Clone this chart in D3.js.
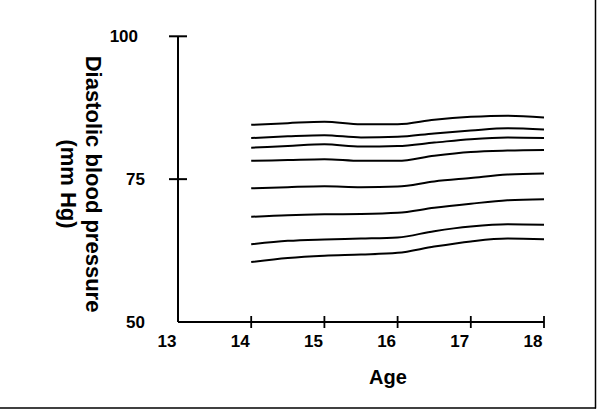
<!DOCTYPE html>
<html>
<head>
<meta charset="utf-8">
<script src="https://cdn.jsdelivr.net/npm/d3@7"></script>
<style>
  html, body { margin: 0; padding: 0; background: #fff; }
  svg { display: block; }
  text { font-family: "Liberation Sans", Arial, sans-serif; font-weight: bold; fill: #000; }
</style>
</head>
<body>
<svg id="chart" width="600" height="410"></svg>
<script>
const ages = [14, 14.5, 15, 15.5, 16, 16.5, 17, 17.5, 18];
const line1 = [84.5, 84.8, 85.05, 84.6, 84.6, 85.4, 85.9, 86.1, 85.8];
const line2 = [82.2, 82.5, 82.7, 82.3, 82.4, 83.0, 83.5, 83.9, 83.7];
const line3 = [80.5, 80.8, 81.1, 80.7, 80.8, 81.4, 82.0, 82.3, 82.2];
const line4 = [78.2, 78.35, 78.5, 78.2, 78.2, 79.1, 79.75, 80.0, 80.1];
const line5 = [73.4, 73.6, 73.75, 73.6, 73.7, 74.6, 75.2, 75.8, 76.0];
const line6 = [68.4, 68.7, 68.85, 68.9, 69.1, 70.0, 70.7, 71.3, 71.5];
const line7 = [63.6, 64.2, 64.45, 64.6, 64.8, 65.9, 66.7, 67.1, 67.0];
const line8 = [60.5, 61.2, 61.6, 61.8, 62.1, 63.2, 64.1, 64.6, 64.5];
const seriesList = [line1, line2, line3, line4, line5, line6, line7, line8];
const xTicks = [13, 14, 15, 16, 17, 18];
const yTicks = [50, 75, 100];
const xTitle = "Age";
const yTitle = ["Diastolic blood pressure", "(mm Hg)"];

const svg = d3.select("#chart");
const x = d3.scaleLinear().domain([13, 18]).range([178, 544]);
const y = d3.scaleLinear().domain([50, 100]).range([322, 36.3]);

// frame lines (right and bottom)
svg.append("line").attr("x1", 595.5).attr("x2", 595.5).attr("y1", 0).attr("y2", 408.5)
  .attr("stroke", "#000").attr("stroke-width", 1.5);
svg.append("line").attr("x1", 0).attr("x2", 596).attr("y1", 408).attr("y2", 408)
  .attr("stroke", "#000").attr("stroke-width", 1.5);

// y axis
svg.append("line").attr("x1", x(13)).attr("x2", x(13)).attr("y1", y(100)).attr("y2", y(50))
  .attr("stroke", "#000").attr("stroke-width", 2);
yTicks.filter(d => d !== 50).forEach(d => {
  svg.append("line").attr("x1", x(13) - 9).attr("x2", x(13) + 9)
    .attr("y1", y(d)).attr("y2", y(d)).attr("stroke", "#000").attr("stroke-width", 2);
});
svg.selectAll(".ylab").data(yTicks).enter().append("text")
  .attr("class", "ylab")
  .attr("x", d => String(d).length > 2 ? 138 : 145)
  .attr("y", d => y(d))
  .attr("dy", "0.35em")
  .attr("text-anchor", "end")
  .attr("font-size", 17)
  .text(d => d);

// x axis
svg.append("line").attr("x1", x(13)).attr("x2", x(18)).attr("y1", y(50)).attr("y2", y(50))
  .attr("stroke", "#000").attr("stroke-width", 2);
xTicks.filter(d => d !== 13).forEach(d => {
  svg.append("line").attr("x1", x(d)).attr("x2", x(d))
    .attr("y1", y(50) - 6).attr("y2", y(50) + 6).attr("stroke", "#000").attr("stroke-width", 1.8);
});
svg.selectAll(".xlab").data(xTicks).enter().append("text")
  .attr("class", "xlab")
  .attr("x", d => x(d) - 11)
  .attr("y", 347)
  .attr("text-anchor", "middle")
  .attr("font-size", 17)
  .text(d => d);

// titles
svg.append("text").attr("x", 388).attr("y", 384).attr("text-anchor", "middle")
  .attr("font-size", 20).text(xTitle);
svg.append("text").attr("transform", "translate(86,184) rotate(90)")
  .attr("text-anchor", "middle").attr("font-size", 22).text(yTitle[0]);
svg.append("text").attr("transform", "translate(61,184) rotate(90)")
  .attr("text-anchor", "middle").attr("font-size", 22).text(yTitle[1]);

// lines
const lineGen = d3.line()
  .x((d, i) => x(ages[i]))
  .y(d => y(d))
  .curve(d3.curveMonotoneX);
svg.selectAll(".series").data(seriesList).enter().append("path")
  .attr("class", "series")
  .attr("d", d => lineGen(d))
  .attr("fill", "none")
  .attr("stroke", "#000")
  .attr("stroke-width", 2);
</script>
</body>
</html>
